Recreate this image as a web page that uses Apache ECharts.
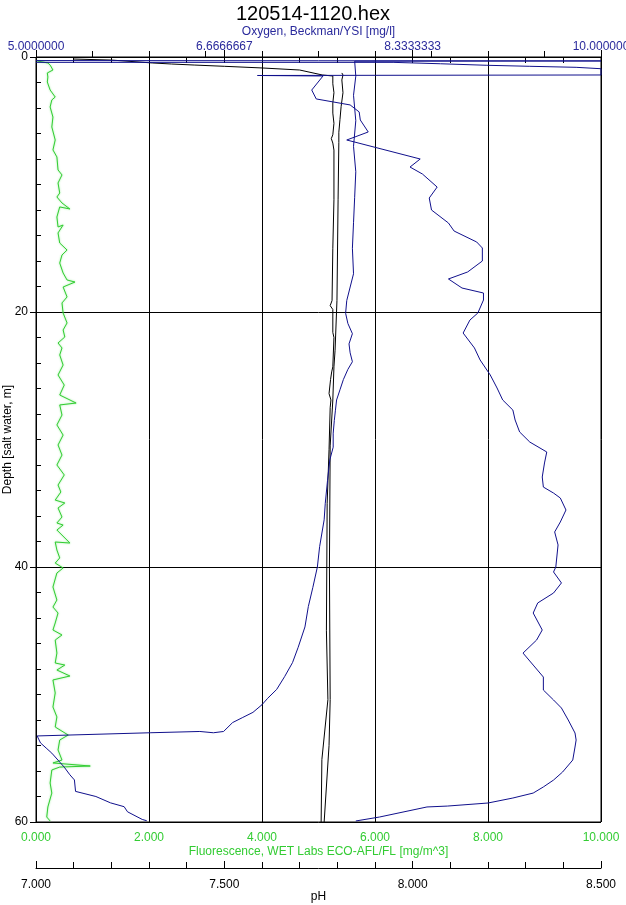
<!DOCTYPE html>
<html>
<head>
<meta charset="utf-8">
<script src="https://cdn.jsdelivr.net/npm/echarts@6/dist/echarts.min.js"></script>
<style>
html,body{margin:0;padding:0;background:#fff;}
#chart{width:626px;height:905px;}
</style>
</head>
<body>
<div id="chart"></div>
<script>
// ---- Data ----
const titleText = '120514-1120.hex';
const oxygenTickValues = [5, 6.6666667, 8.3333333, 10];
const oxygenTickLabels = ['5.0000000', '6.6666667', '8.3333333', '10.000000'];

// Fluorescence [mg/m^3] vs depth [m]
const fluorDepth = [0.31,0.47,0.63,1.02,1.25,1.57,1.96,2.59,3.14,3.37,3.92,4.71,5.49,6.51,7.29,7.84,8.86,9.25,9.88,10.67,10.98,11.45,11.92,11.76,12.55,13.33,13.18,13.80,14.59,15.14,15.53,16.16,16.94,17.49,17.65,18.04,18.82,19.29,20.08,20.86,21.41,21.96,22.43,22.82,23.37,24.16,24.94,25.73,26.51,27.14,27.29,28.08,28.86,29.65,30.43,31.22,32.00,32.78,33.57,34.12,34.75,34.98,35.37,36.08,36.55,36.71,37.10,38.12,38.04,38.67,39.29,39.69,40.08,40.47,41.57,42.59,43.14,43.61,44.39,44.94,45.33,45.73,46.75,47.53,47.69,48.08,48.55,48.86,49.88,50.98,51.76,52.55,53.18,53.57,54.35,55.14,55.37,55.61,55.69,55.92,56.94,57.73,58.82,59.61,59.92];
const fluorValue = [0.02,0.21,0.25,0.30,0.20,0.21,0.20,0.25,0.34,0.28,0.25,0.30,0.28,0.34,0.30,0.37,0.39,0.46,0.39,0.42,0.37,0.46,0.60,0.42,0.37,0.39,0.48,0.39,0.42,0.55,0.46,0.42,0.48,0.55,0.69,0.48,0.55,0.46,0.48,0.55,0.48,0.51,0.39,0.46,0.42,0.48,0.39,0.50,0.42,0.71,0.42,0.46,0.37,0.48,0.39,0.46,0.37,0.50,0.39,0.44,0.34,0.51,0.39,0.46,0.37,0.48,0.37,0.60,0.34,0.37,0.42,0.34,0.48,0.37,0.30,0.37,0.30,0.39,0.34,0.30,0.46,0.34,0.37,0.34,0.51,0.37,0.60,0.30,0.34,0.30,0.37,0.34,0.57,0.42,0.39,0.46,0.30,0.96,0.42,0.28,0.25,0.28,0.21,0.19,0.25];

// Oxygen [mg/l], profile A (right-hand curve)
const oxyADepth = [0.42,0.42,0.53,0.53,0.65,0.65,0.73,0.73,0.81,0.81,0.92,0.92,1.41,1.45,1.49,2.59,3.29,3.76,4.31,4.94,5.88,6.51,8.00,8.63,9.18,10.20,11.06,12.00,13.02,13.65,14.51,14.98,16.00,16.86,17.41,18.12,18.51,19.06,20.08,20.63,21.65,22.82,23.76,24.94,25.96,26.90,27.69,28.47,29.41,30.20,30.98,31.84,32.94,33.73,34.20,34.59,35.53,36.47,37.25,38.27,40.00,40.39,41.25,42.04,42.82,43.61,44.94,45.73,46.75,47.69,48.63,49.65,50.43,51.06,52.00,53.02,53.57,54.12,55.14,56.08,56.71,57.25,57.73,58.12,58.51,58.75,58.82,59.61,59.92];
const oxyAValue = [5.00,8.16,8.16,8.58,8.58,8.99,8.99,9.37,9.37,9.78,9.78,10.00,10.00,6.96,7.54,7.44,7.48,7.78,7.86,7.87,7.94,7.75,8.40,8.31,8.42,8.55,8.48,8.50,8.65,8.70,8.90,8.95,8.95,8.82,8.65,8.77,8.96,8.96,8.91,8.84,8.78,8.88,8.93,9.02,9.08,9.13,9.22,9.24,9.28,9.37,9.52,9.50,9.48,9.49,9.58,9.64,9.69,9.64,9.59,9.62,9.60,9.58,9.65,9.58,9.44,9.40,9.48,9.43,9.31,9.40,9.49,9.49,9.58,9.65,9.71,9.77,9.78,9.77,9.75,9.66,9.58,9.49,9.40,9.22,9.00,8.64,8.46,8.04,7.83];

// Oxygen [mg/l], profile B (near-vertical trace, dropping at 53 m)
const oxyBDepth = [0.28,0.31,0.33,1.5,3,5,7,9,11,13,15,17,19.1,20.1,20.9,21.7,22.5,23.2,23.9,24.5,25.3,26.1,26.9,27.7,28.5,29.5,30.6,31.6,33.2,35.0,36.3,38.4,40.0,41.6,43.1,44.7,46.3,47.5,48.6,49.6,50.3,50.8,51.4,51.8,52.2,52.9,53.0,52.9,53.0,53.25,53.4,53.8,54.2,54.6,55.3,55.7,56.3,56.7,57.6,58.0,58.5,58.8,59.2,59.8,59.9];
const oxyBValue = [5.00,10.00,7.82,7.83,7.81,7.83,7.81,7.83,7.82,7.81,7.80,7.81,7.75,7.74,7.76,7.80,7.77,7.78,7.80,7.76,7.72,7.69,7.66,7.65,7.64,7.63,7.63,7.60,7.58,7.56,7.55,7.51,7.49,7.45,7.41,7.38,7.32,7.27,7.20,7.13,7.05,7.00,6.92,6.83,6.74,6.66,6.57,6.45,6.01,5.01,5.01,5.04,5.09,5.14,5.21,5.25,5.30,5.34,5.35,5.53,5.66,5.78,5.81,5.94,5.98];

// pH, profile A
const phADepth = [0.16,0.24,0.47,0.55,0.63,0.73,0.86,1.02,1.41,1.49,2.1,2.8,3.6,4.4,5.2,6.1,6.4,6.75,7.3,11.2,15,19.1,19.5,19.8,21.6,22.0,24.3,24.7,25.3,26.4,26.9,27.5,30.8,35,40,45,50.4,55.1,60];
const phAValue = [7.10,7.20,7.31,7.36,7.42,7.50,7.60,7.70,7.76,7.788,7.788,7.791,7.788,7.788,7.791,7.788,7.784,7.788,7.791,7.791,7.788,7.786,7.781,7.788,7.788,7.791,7.788,7.785,7.782,7.778,7.783,7.781,7.778,7.773,7.772,7.771,7.775,7.759,7.757];

// pH, profile B
const phBDepth = [1.25,1.41,1.8,2.8,3.9,4.9,5.9,6.7,11.2,19.1,23,24.3,26.9,30.5,40,50.4,54,60];
const phBValue = [7.812,7.815,7.812,7.815,7.810,7.807,7.804,7.804,7.802,7.799,7.794,7.791,7.788,7.781,7.779,7.781,7.778,7.765];

// ---- Styling ----
const FONT = 'Liberation Sans, Arial, sans-serif';
const GREEN = '#33cc33';
const BLUE_LINE = '#10108c';
const BLUE_TEXT = '#2a2a9c';
const BLACK = '#000000';

function zip(values, depths) {
  return values.map((v, i) => [v, depths[i]]);
}
function oxyLabel(v) {
  let best = 0;
  for (let i = 1; i < oxygenTickValues.length; i++) {
    if (Math.abs(oxygenTickValues[i] - v) < Math.abs(oxygenTickValues[best] - v)) best = i;
  }
  return oxygenTickLabels[best];
}

const chart = echarts.init(document.getElementById('chart'), null, {renderer: 'canvas'});
const lineBase = {type: 'line', showSymbol: false, symbol: 'none', animation: false, smooth: false, clip: true, z: 3};

chart.setOption({
  backgroundColor: '#ffffff',
  animation: false,
  title: {
    text: titleText, left: 'center', top: -1,
    textStyle: {fontFamily: FONT, fontSize: 20, fontWeight: 'normal', color: BLACK}
  },
  grid: {left: 36, right: 25, top: 57, bottom: 83, containLabel: false, outerBoundsMode: 'none',
    show: true, borderColor: BLACK, borderWidth: 1, backgroundColor: 'transparent'},
  xAxis: [
    { // 0: fluorescence (bottom)
      type: 'value', position: 'bottom', min: 0, max: 10, interval: 2,
      name: 'Fluorescence, WET Labs ECO-AFL/FL [mg/m^3]', nameLocation: 'middle', nameGap: 24, nameMoveOverlap: false,
      nameTextStyle: {fontFamily: FONT, fontSize: 12, color: GREEN},
      axisLine: {show: true, lineStyle: {color: BLACK, width: 1}},
      axisTick: {show: true, inside: true, length: 6, lineStyle: {color: BLACK}},
      minorTick: {show: true, splitNumber: 2, length: 6, lineStyle: {color: BLACK}},
      axisLabel: {fontFamily: FONT, fontSize: 12, color: GREEN, margin: 10, formatter: v => v.toFixed(3)},
      splitLine: {show: true, lineStyle: {color: BLACK, width: 1}}
    },
    { // 1: oxygen (top), major ticks + labels
      type: 'value', position: 'top', min: 5, max: 10, interval: 5 / 3,
      name: 'Oxygen, Beckman/YSI [mg/l]', nameLocation: 'middle', nameGap: 19, nameMoveOverlap: false,
      nameTextStyle: {fontFamily: FONT, fontSize: 12, color: BLUE_TEXT},
      axisLine: {show: true, lineStyle: {color: BLACK, width: 1}},
      axisTick: {show: true, inside: false, length: 7, lineStyle: {color: BLACK}},
      axisLabel: {fontFamily: FONT, fontSize: 12, color: BLUE_TEXT, margin: 4, formatter: oxyLabel},
      splitLine: {show: false}
    },
    { // 2: oxygen (top), minor inside ticks
      type: 'value', position: 'top', min: 5, max: 10, interval: 1 / 3,
      axisLine: {show: false},
      axisTick: {show: true, inside: true, length: 6, lineStyle: {color: BLACK}},
      axisLabel: {show: false},
      splitLine: {show: false}
    },
    { // 3: pH (bottom, offset)
      type: 'value', position: 'bottom', offset: 46, min: 7, max: 8.5, interval: 0.5,
      name: 'pH', nameLocation: 'middle', nameGap: 23, nameMoveOverlap: false,
      nameTextStyle: {fontFamily: FONT, fontSize: 12, color: BLACK},
      axisLine: {show: true, lineStyle: {color: BLACK, width: 1}},
      axisTick: {show: true, inside: true, length: 7, lineStyle: {color: BLACK}},
      minorTick: {show: true, splitNumber: 5, length: 6, lineStyle: {color: BLACK}},
      axisLabel: {fontFamily: FONT, fontSize: 12, color: BLACK, margin: 11, formatter: v => v.toFixed(3)},
      splitLine: {show: false}
    }
  ],
  yAxis: [
    { // 0: depth, major
      type: 'value', position: 'left', min: 0, max: 60, interval: 20, inverse: true,
      name: 'Depth [salt water, m]', nameLocation: 'middle', nameGap: 22, nameRotate: 90, nameMoveOverlap: false,
      nameTextStyle: {fontFamily: FONT, fontSize: 12, color: BLACK},
      axisLine: {show: true, lineStyle: {color: BLACK, width: 1}},
      axisTick: {show: true, inside: false, length: 6, lineStyle: {color: BLACK}},
      axisLabel: {fontFamily: FONT, fontSize: 12, color: BLACK, margin: 8},
      splitLine: {show: true, lineStyle: {color: BLACK, width: 1}}
    },
    { // 1: depth, minor inside ticks
      type: 'value', position: 'left', min: 0, max: 60, interval: 2, inverse: true,
      axisLine: {show: false},
      axisTick: {show: true, inside: true, length: 5, lineStyle: {color: BLACK}},
      axisLabel: {show: false},
      splitLine: {show: false}
    }
  ],
  series: [
    Object.assign({}, lineBase, {name: 'Fluorescence', xAxisIndex: 0, yAxisIndex: 0,
      data: zip(fluorValue, fluorDepth), lineStyle: {color: GREEN, width: 1, shadowColor: 'rgba(60,220,60,0.6)', shadowBlur: 2}}),
    Object.assign({}, lineBase, {name: 'pH B', xAxisIndex: 3, yAxisIndex: 0,
      data: zip(phBValue, phBDepth), lineStyle: {color: BLACK, width: 1}}),
    Object.assign({}, lineBase, {name: 'pH A', xAxisIndex: 3, yAxisIndex: 0,
      data: zip(phAValue, phADepth), lineStyle: {color: BLACK, width: 1}}),
    Object.assign({}, lineBase, {name: 'Oxygen B', xAxisIndex: 1, yAxisIndex: 0,
      data: zip(oxyBValue, oxyBDepth), lineStyle: {color: BLUE_LINE, width: 1}}),
    Object.assign({}, lineBase, {name: 'Oxygen A', xAxisIndex: 1, yAxisIndex: 0,
      data: zip(oxyAValue, oxyADepth), lineStyle: {color: BLUE_LINE, width: 1}})
  ]
});
</script>
</body>
</html>
